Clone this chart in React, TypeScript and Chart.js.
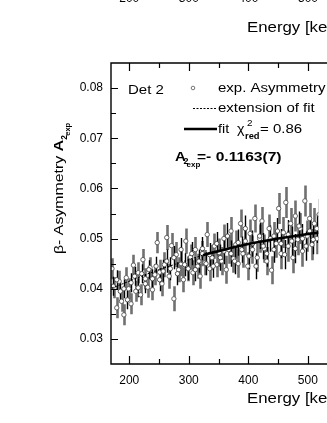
import React, { useEffect, useRef } from "react";
import { Chart, registerables } from "chart.js";

Chart.register(...registerables);

// ---------- data ----------
const xTickValues = [200, 300, 400, 500];
const xMinorTickValues = [250, 350, 450];
const yTickValues = [0.03, 0.04, 0.05, 0.06, 0.07, 0.08];
const yMinorTickValues = [0.035, 0.045, 0.055, 0.065, 0.075];
const xMin = 169.35;
const xMax = 517.7;
const yMin = 0.025;
const yMax = 0.085;

const greyEnergy = [
  171, 175, 179, 183, 187, 191, 195, 199, 203, 207, 211, 215, 219, 223, 227, 231, 235, 239, 243, 247,
  251, 255, 259, 263, 267, 271, 275, 279, 283, 287, 291, 295, 299, 303, 307, 311, 315, 319, 323, 327,
  331, 335, 339, 343, 347, 351, 355, 359, 363, 367, 371, 375, 379, 383, 387, 391, 395, 399, 403, 407,
  411, 415, 419, 423, 427, 431, 435, 439, 443, 447, 451, 455, 459, 463, 467, 471, 475, 479, 483, 487,
  491, 495, 499, 503, 507, 511, 515, 519,
];
const greyAsym = [
  0.0440, 0.0402, 0.0362, 0.0415, 0.0375, 0.0348, 0.0422, 0.0400, 0.0370, 0.0447,
  0.0395, 0.0432, 0.0388, 0.0458, 0.0420, 0.0403, 0.0442, 0.0398, 0.0428, 0.0492,
  0.0433, 0.0410, 0.0448, 0.0502, 0.0425, 0.0486, 0.0380, 0.0468, 0.0438, 0.0450,
  0.0418, 0.0495, 0.0440, 0.0463, 0.0432, 0.0478, 0.0445, 0.0425, 0.0470, 0.0452,
  0.0508, 0.0440, 0.0462, 0.0485, 0.0448, 0.0472, 0.0455, 0.0500, 0.0438, 0.0478,
  0.0515, 0.0460, 0.0488, 0.0450, 0.0530, 0.0470, 0.0495, 0.0445, 0.0510, 0.0478,
  0.0540, 0.0462, 0.0500, 0.0535, 0.0480, 0.0455, 0.0520, 0.0437, 0.0505, 0.0490,
  0.0560, 0.0470, 0.0512, 0.0572, 0.0485, 0.0530, 0.0462, 0.0545, 0.0498, 0.0520,
  0.0475, 0.0575, 0.0505, 0.0540, 0.0488, 0.0530, 0.0500, 0.0548,
];
const blackEnergy = [
  173, 179, 185, 191, 197, 203, 209, 215, 221, 227, 233, 239, 245, 251, 257, 263, 269, 275, 281, 287,
  293, 299, 305, 311, 317, 323, 329, 335, 341, 347, 353, 359, 365, 371, 377, 383, 389, 395, 401, 407,
  413, 419, 425, 431, 437, 443, 449, 455, 461, 467, 473, 479, 485, 491, 497, 503, 509, 515,
];
const blackAsym = [
  0.0405, 0.0418, 0.0395, 0.0400, 0.0378, 0.0412, 0.0425, 0.0402, 0.0430, 0.0410,
  0.0438, 0.0420, 0.0445, 0.0418, 0.0435, 0.0455, 0.0440, 0.0462, 0.0430, 0.0478,
  0.0448, 0.0440, 0.0470, 0.0438, 0.0455, 0.0480, 0.0450, 0.0468, 0.0445, 0.0490,
  0.0462, 0.0475, 0.0505, 0.0470, 0.0455, 0.0492, 0.0478, 0.0520, 0.0465, 0.0490,
  0.0445, 0.0505, 0.0485, 0.0470, 0.0500, 0.0478, 0.0515, 0.0490, 0.0468, 0.0508,
  0.0495, 0.0480, 0.0525, 0.0500, 0.0485, 0.0515, 0.0498, 0.0520,
];
// statistical errors per energy band (edges in keV)
const errBandEdges = [250, 350, 450];
const greyErrBands = [0.0021, 0.0025, 0.0028, 0.0031];
const blackErrBands = [0.0019, 0.0023, 0.0026, 0.0029];

// fit curve (solid inside fit range, dashed extension below it)
const fitExtEnergy = [160, 170, 185, 200, 225, 250, 275, 300, 324];
const fitExtAsym = [0.0396, 0.0401, 0.0408, 0.0415, 0.0427, 0.0438, 0.0448, 0.0458, 0.0467];
const fitEnergy = [324, 350, 400, 450, 500, 520];
const fitAsym = [0.0467, 0.0475, 0.0489, 0.0500, 0.0509, 0.0512];

// ---------- helpers ----------
const FONT = "'Liberation Sans', Arial, Helvetica, sans-serif";

function errFor(e: number, bands: number[]) {
  let k = 0;
  while (k < errBandEdges.length && e >= errBandEdges[k]) k++;
  return bands[k];
}

function txt(
  ctx: CanvasRenderingContext2D,
  s: string,
  x: number,
  y: number,
  size: number,
  bold = false,
  sx = 1.2
) {
  ctx.save();
  ctx.font = `${bold ? "bold " : ""}${size}px ${FONT}`;
  ctx.textBaseline = "alphabetic";
  ctx.textAlign = "left";
  ctx.fillStyle = "#000";
  ctx.translate(x, y);
  ctx.scale(sx, 1);
  ctx.fillText(s, 0, 0);
  const w = ctx.measureText(s).width * sx;
  ctx.restore();
  return w;
}

function pts(xs: number[], ys: number[]) {
  return xs.map((x, i) => ({ x, y: ys[i] }));
}

function makePlugin(opts: { titleDy: number; legend: boolean }) {
  return {
    id: "physFrame",
    beforeDatasetsDraw(chart: any) {
      if (!opts.legend) return;
      const { ctx, chartArea: a, scales } = chart;
      const xs = scales.x;
      const ys = scales.y;
      ctx.save();
      ctx.beginPath();
      ctx.rect(a.left, a.top, a.right - a.left, a.bottom - a.top);
      ctx.clip();
      const bars = (E: number[], A: number[], bands: number[], color: string, w: number) => {
        ctx.strokeStyle = color;
        ctx.lineWidth = w;
        ctx.beginPath();
        E.forEach((e, i) => {
          const err = errFor(e, bands);
          const px = Math.round(xs.getPixelForValue(e)) + 0.5;
          ctx.moveTo(px, ys.getPixelForValue(A[i] - err));
          ctx.lineTo(px, ys.getPixelForValue(A[i] + err));
        });
        ctx.stroke();
      };
      bars(greyEnergy, greyAsym, greyErrBands, "#707070", 2.6);
      bars(blackEnergy, blackAsym, blackErrBands, "#000", 1.4);
      ctx.restore();
    },
    afterDraw(chart: any) {
      const { ctx, chartArea: a, scales } = chart;
      const xs = scales.x;
      const ys = scales.y;
      ctx.save();
      // frame
      ctx.strokeStyle = "#000";
      ctx.lineWidth = 1.4;
      ctx.beginPath();
      ctx.moveTo(chart.width + 5, a.top);
      ctx.lineTo(a.left, a.top);
      ctx.lineTo(a.left, a.bottom);
      ctx.lineTo(chart.width + 5, a.bottom);
      ctx.stroke();
      // inward ticks
      ctx.lineWidth = 1.2;
      ctx.beginPath();
      const xt = (v: number, len: number) => {
        const px = Math.round(xs.getPixelForValue(v)) + 0.5;
        ctx.moveTo(px, a.bottom);
        ctx.lineTo(px, a.bottom - len);
        ctx.moveTo(px, a.top);
        ctx.lineTo(px, a.top + len);
      };
      xTickValues.forEach((v) => xt(v, 8));
      xMinorTickValues.forEach((v) => xt(v, 5));
      const yt = (v: number, len: number) => {
        const py = Math.round(ys.getPixelForValue(v)) + 0.5;
        ctx.moveTo(a.left, py);
        ctx.lineTo(a.left + len, py);
      };
      yTickValues.forEach((v) => yt(v, 7));
      yMinorTickValues.forEach((v) => yt(v, 5));
      ctx.stroke();
      ctx.restore();

      // x axis title
      txt(ctx, "Energy [keV]", 247, a.bottom + opts.titleDy + 5, 14, false, 1.2);

      if (!opts.legend) return;

      // y axis title (rotated)
      ctx.save();
      ctx.translate(63, 254);
      ctx.rotate(-Math.PI / 2);
      let cx = 0;
      cx += txt(ctx, "\u03b2- Asymmetry ", cx, 0, 13, false, 1.22);
      cx += txt(ctx, "A", cx, 0, 13.5, true, 1.2);
      txt(ctx, "2", cx, 3.5, 8.5, true, 1.0);
      txt(ctx, "exp", cx + 4, 6.5, 7.5, true, 1.0);
      ctx.restore();

      // legend / annotations
      txt(ctx, "Det 2", 128, 94, 12.5, false, 1.2);

      // row 1: symbol
      ctx.save();
      ctx.beginPath();
      ctx.arc(193, 88, 1.8, 0, Math.PI * 2);
      ctx.fillStyle = "#fff";
      ctx.fill();
      ctx.strokeStyle = "#666";
      ctx.lineWidth = 0.9;
      ctx.stroke();
      ctx.restore();
      txt(ctx, "exp. Asymmetry", 218, 92, 12, false, 1.25);

      // row 2: dashed
      ctx.save();
      ctx.strokeStyle = "#000";
      ctx.lineWidth = 1;
      ctx.setLineDash([2, 1.5]);
      ctx.beginPath();
      ctx.moveTo(193, 108.5);
      ctx.lineTo(216, 108.5);
      ctx.stroke();
      ctx.restore();
      txt(ctx, "extension of fit", 218, 112, 12, false, 1.25);

      // row 3: solid
      ctx.save();
      ctx.strokeStyle = "#000";
      ctx.lineWidth = 2.5;
      ctx.beginPath();
      ctx.moveTo(184, 129);
      ctx.lineTo(217, 129);
      ctx.stroke();
      ctx.restore();
      txt(ctx, "fit", 218, 133, 12, false, 1.2);
      txt(ctx, "\u03c7", 237, 133, 13, false, 1.1);
      txt(ctx, "2", 247, 126, 9, false, 1.1);
      txt(ctx, "red", 245, 138.5, 8.5, true, 1.1);
      txt(ctx, "= 0.86", 260, 133, 12.5, false, 1.2);

      // row 4: result
      txt(ctx, "A", 175, 161, 13, true, 1.15);
      txt(ctx, "2", 183.5, 164, 9, true, 1.0);
      txt(ctx, "exp", 186.5, 167, 8, true, 1.0);
      txt(ctx, "=- 0.1163(7)", 197, 161, 13, true, 1.2);
    },
  };
}

function xScale(showLabels: boolean) {
  return {
    type: "linear",
    position: "bottom",
    min: xMin,
    max: xMax,
    grid: { display: false, drawTicks: false },
    border: { display: false },
    afterBuildTicks: (s: any) => {
      s.ticks = xTickValues.map((v) => ({ value: v }));
    },
    afterFit: (s: any) => {
      s.height = 59;
    },
    ticks: {
      display: showLabels,
      padding: 9,
      color: "#000",
      maxRotation: 0,
      font: { family: FONT, size: 12 },
      callback: (v: any) => String(v),
    },
  };
}

function yScale() {
  return {
    type: "linear",
    min: yMin,
    max: yMax,
    grid: { display: false, drawTicks: false },
    border: { display: false },
    afterBuildTicks: (s: any) => {
      s.ticks = yTickValues.map((v) => ({ value: v }));
    },
    afterFit: (s: any) => {
      s.width = 111;
    },
    ticks: {
      padding: 8,
      color: "#000",
      font: { family: FONT, size: 12 },
      callback: (v: any) => Number(v).toFixed(2),
    },
  };
}

function mainConfig(): any {
  const pointStyle = {
    showLine: false,
    pointRadius: 2.2,
    pointHoverRadius: 2.2,
    pointBackgroundColor: "#fff",
    pointBorderWidth: 0.9,
  };
  return {
    type: "scatter",
    data: {
      datasets: [
        {
          label: "fit",
          data: pts(fitEnergy, fitAsym),
          showLine: true,
          borderColor: "#000",
          borderWidth: 2.6,
          pointRadius: 0,
          tension: 0.3,
        },
        {
          label: "extension of fit",
          data: pts(fitExtEnergy, fitExtAsym),
          showLine: true,
          borderColor: "#000",
          borderWidth: 1,
          borderDash: [2, 1.5],
          pointRadius: 0,
          tension: 0.3,
        },
        {
          label: "exp. Asymmetry (b)",
          data: pts(blackEnergy, blackAsym),
          ...pointStyle,
          pointBorderColor: "#444",
        },
        {
          label: "exp. Asymmetry (a)",
          data: pts(greyEnergy, greyAsym),
          ...pointStyle,
          pointBorderColor: "#555",
        },
      ],
    },
    options: {
      responsive: false,
      animation: false,
      devicePixelRatio: 1,
      layout: { padding: { top: 63, left: 0, right: 0, bottom: 0 } },
      plugins: { legend: { display: false }, tooltip: { enabled: false }, title: { display: false } },
      scales: { x: xScale(true), y: yScale() },
    },
    plugins: [makePlugin({ titleDy: 34, legend: true })],
  };
}

function topConfig(): any {
  return {
    type: "scatter",
    data: { datasets: [] },
    options: {
      responsive: false,
      animation: false,
      devicePixelRatio: 1,
      layout: { padding: { top: 0, left: 0, right: 0, bottom: 0 } },
      plugins: { legend: { display: false }, tooltip: { enabled: false } },
      scales: { x: xScale(true), y: { ...yScale(), ticks: { display: false } } },
    },
    plugins: [makePlugin({ titleDy: 45, legend: false })],
  };
}

export default function App() {
  const mainRef = useRef<HTMLCanvasElement>(null);
  const topRef = useRef<HTMLCanvasElement>(null);
  useEffect(() => {
    const top = new Chart(topRef.current as HTMLCanvasElement, topConfig());
    const main = new Chart(mainRef.current as HTMLCanvasElement, mainConfig());
    return () => {
      main.destroy();
      top.destroy();
    };
  }, []);
  return (
    <div
      style={{
        position: "fixed",
        left: 0,
        top: 0,
        width: 327,
        height: 423,
        overflow: "hidden",
        background: "#fff",
      }}
    >
      <canvas
        ref={topRef}
        width={327}
        height={100}
        style={{ position: "absolute", left: 0, top: -59, width: 327, height: 100 }}
      />
      <canvas
        ref={mainRef}
        width={327}
        height={423}
        style={{ position: "absolute", left: 0, top: 0, width: 327, height: 423 }}
      />
    </div>
  );
}
